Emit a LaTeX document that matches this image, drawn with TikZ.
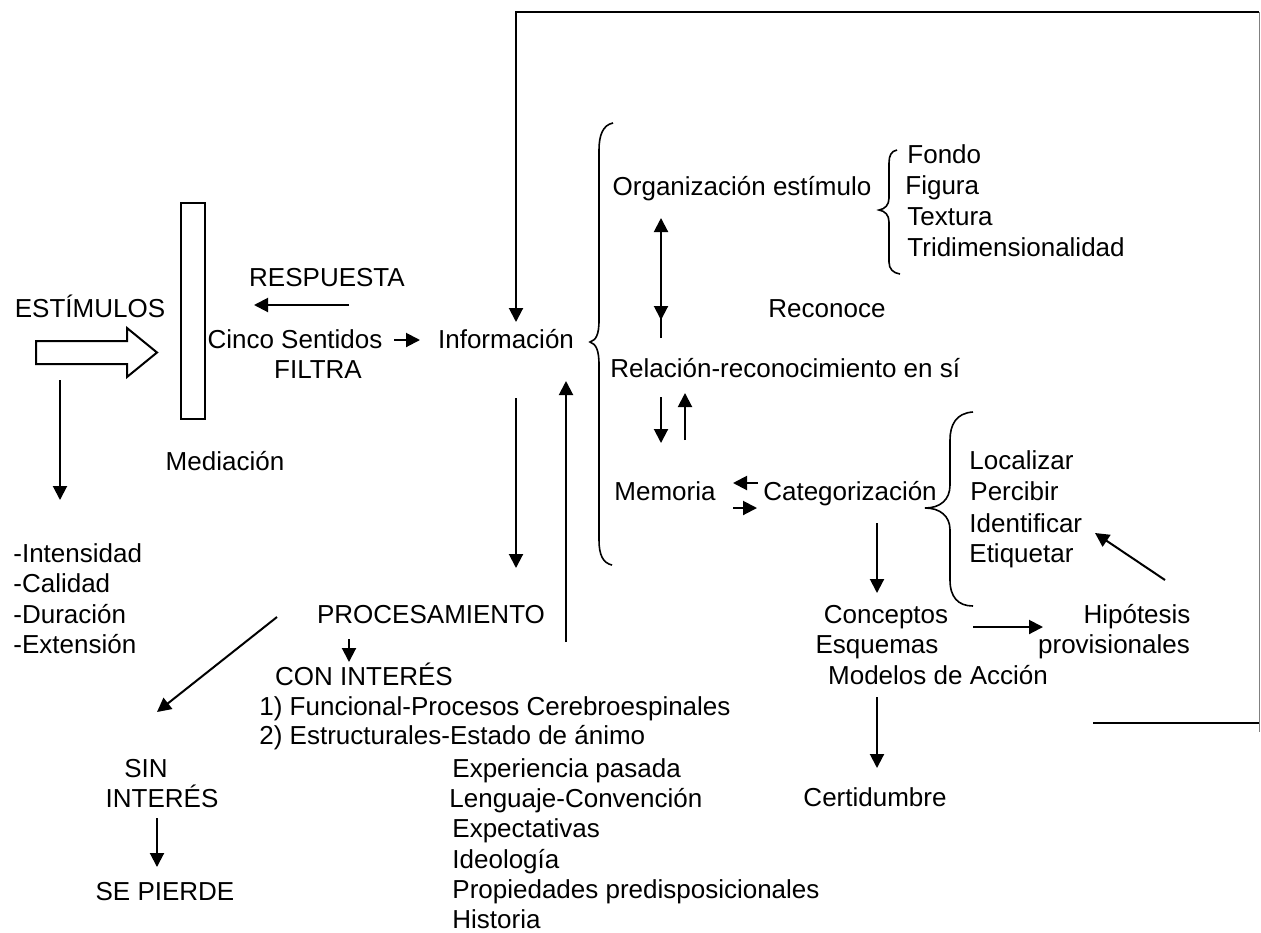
\documentclass[tikz,border=0pt]{standalone}
\usepackage{fontspec}
\setmainfont{Liberation Sans}
\usetikzlibrary{arrows.meta}

\begin{document}
\begin{tikzpicture}[
	x=0.5pt, y=-0.5pt,
	font=\fontsize{13}{15}\selectfont,
	lbl/.style={inner sep=0pt, anchor=base},
	lft/.style={inner sep=0pt, anchor=base west},
	arr/.style={-{Triangle[length=7pt, width=7pt]}, line width=1pt},
	ln/.style={line width=1pt},
	brace/.style={line width=0.8pt}
	]
	\useasboundingbox (0,0) rectangle (1261,932);

	% Left: stimuli and mediation
	\node[lbl] (estimulos) at (90,317) {ESTÍMULOS};
	\node[draw, line width=1pt, minimum width=12pt, minimum height=108pt, inner sep=0pt] (filtro) at (193,311) {};
	\node[lbl] (respuesta) at (327,286) {RESPUESTA};
	\node[lbl] (cinco) at (295,348) {Cinco Sentidos};
	\node[lbl] (filtra) at (318,378) {FILTRA};
	\node[lbl] (mediacion) at (225,470) {Mediación};
	\node[lft] (intensidad) at (13,562) {-Intensidad};
	\node[lft] (calidad) at (13,592) {-Calidad};
	\node[lft] (duracion) at (13,623) {-Duración};
	\node[lft] (extension) at (13,653) {-Extensión};

	\draw[ln] (36,341) -- (127,341) -- (127,328) -- (157,352.5) -- (127,377) -- (127,364) -- (36,364) -- cycle;

	% Middle: processing
	\node[lbl] (informacion) at (506,348) {Información};
	\node[lbl] (procesamiento) at (431,623) {PROCESAMIENTO};
	\node[lbl] (coninteres) at (364,685) {CON INTERÉS};
	\node[lft] (funcional) at (259,715) {1) Funcional-Procesos Cerebroespinales};
	\node[lft] (estructurales) at (259,744) {2) Estructurales-Estado de ánimo};
	\node[lbl] (sin) at (146,777) {SIN};
	\node[lbl] (sininteres) at (162,807) {INTERÉS};
	\node[lbl] (sepierde) at (165,900) {SE PIERDE};
	\node[lft] (experiencia) at (452,777) {Experiencia pasada};
	\node[lft] (lenguaje) at (449,807) {Lenguaje-Convención};
	\node[lft] (expectativas) at (452,837) {Expectativas};
	\node[lft] (ideologia) at (452,868) {Ideología};
	\node[lft] (propiedades) at (452,898) {Propiedades predisposicionales};
	\node[lft] (historia) at (452,928) {Historia};

	% Right: perception
	\node[lbl] (organizacion) at (742,195) {Organización estímulo};
	\node[lft] (fondo) at (907,163) {Fondo};
	\node[lft] (figura) at (905,194) {Figura};
	\node[lft] (textura) at (907,225) {Textura};
	\node[lft] (tridim) at (907,256) {Tridimensionalidad};
	\node[lbl] (reconoce) at (827,317) {Reconoce};
	\node[lft] (relacion) at (610,377) {Relación-reconocimiento en sí};
	\node[lbl] (memoria) at (665,500) {Memoria};
	\node[lbl] (categorizacion) at (850,500) {Categorización};
	\node[lft] (localizar) at (969,469) {Localizar};
	\node[lft] (percibir) at (970,500) {Percibir};
	\node[lft] (identificar) at (969,532) {Identificar};
	\node[lft] (etiquetar) at (969,562) {Etiquetar};
	\node[lbl] (conceptos) at (886,623) {Conceptos};
	\node[lbl] (esquemas) at (877,653) {Esquemas};
	\node[lbl] (modelos) at (938,684) {Modelos de Acción};
	\node[lbl] (hipotesis) at (1137,623) {Hipótesis};
	\node[lbl] (provisionales) at (1114,653) {provisionales};
	\node[lbl] (certidumbre) at (875,806) {Certidumbre};

	% Braces
	\draw[brace] (613,123) .. controls (603,125) and (599,135) .. (599,150) -- (599,320)
		.. controls (599,335) and (596,340) .. (590,342) .. controls (596,344) and (599,350) .. (599,365)
		-- (599,540) .. controls (599,555) and (603,563) .. (612,565);
	\draw[brace] (897,150) .. controls (891,151) and (889,156) .. (889,163) -- (889,198)
		.. controls (889,205) and (885,209) .. (879,210) .. controls (885,211) and (889,215) .. (889,222)
		-- (889,262) .. controls (889,269) and (893,273) .. (900,274);
	\draw[brace] (973,412) .. controls (956,413) and (950,425) .. (950,440) -- (950,485)
		.. controls (950,500) and (940,508) .. (925,508) .. controls (940,508) and (950,516) .. (950,530)
		-- (950,580) .. controls (950,597) and (958,606) .. (973,606);

	% Arrows
	\draw[arr] (60,380) -- (60,500);
	\draw[arr] (349,305) -- (254,305);
	\draw[arr] (394,340) -- (420,340);
	\draw[arr] (1259,12) -- (516,12) -- (516,322);
	\draw[thin, gray] (1259.5,12) -- (1259.5,732);
	\draw[ln] (1093,723) -- (1259,723);
	\draw[arr] (516,398) -- (516,568);
	\draw[arr] (566,642) -- (566,381);
	\draw[arr] (661,338) -- (661,218);
	\draw[arr] (661,300) -- (661,320);
	\draw[arr] (661,397) -- (661,443);
	\draw[arr] (685,440) -- (685,393);
	\draw[arr] (758,483) -- (733,483);
	\draw[arr] (733,508) -- (757,508);
	\draw[arr] (877,523) -- (877,593);
	\draw[arr] (973,627) -- (1043,627);
	\draw[arr] (1165,580) -- (1095,533);
	\draw[arr] (877,697) -- (877,768);
	\draw[arr] (277,617) -- (157,712);
	\draw[arr] (349,639) -- (349,662);
	\draw[arr] (157,818) -- (157,867);

\end{tikzpicture}
\end{document}
